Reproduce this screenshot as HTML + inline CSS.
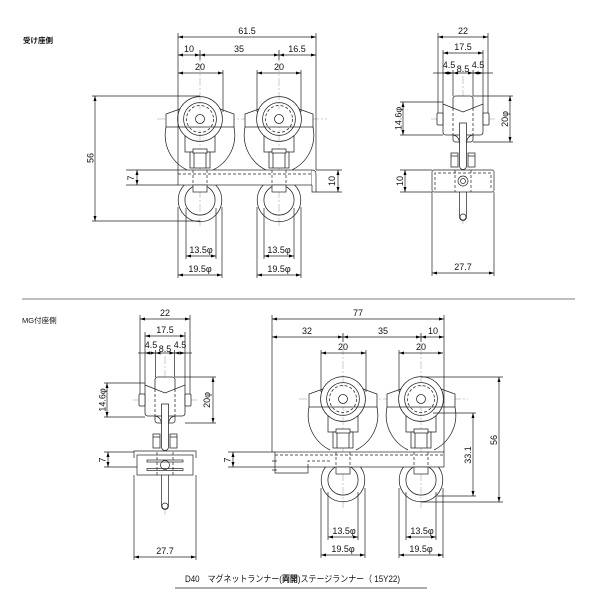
<!DOCTYPE html>
<html><head><meta charset="utf-8"><style>
html,body{margin:0;padding:0;background:#fff;}
svg{display:block}
text{font-family:"Liberation Sans","Noto Sans CJK JP",sans-serif;font-size:9px;fill:#111}
.l{fill:none;stroke:#222;stroke-width:0.7}
.d{fill:none;stroke:#222;stroke-width:0.7;marker-start:url(#ar);marker-end:url(#ar)}
.c{fill:none;stroke:#999;stroke-width:0.5;stroke-dasharray:8,2,2,2}
.h{fill:none;stroke:#222;stroke-width:0.7;stroke-dasharray:3,2}
.m{text-anchor:middle}
</style></head><body>
<svg width="600" height="600" viewBox="0 0 600 600" xmlns="http://www.w3.org/2000/svg">
<defs>
<marker id="ar" viewBox="0 0 10 6" refX="10" refY="3" markerWidth="5" markerHeight="3" markerUnits="userSpaceOnUse" orient="auto-start-reverse"><path d="M0,0L10,3L0,6z" fill="#000"/></marker>
<g id="up" fill="none" stroke="#222" stroke-width="0.75">
 <path d="M-34,8C-38,28 -27,44 -13,51M34,8C38,28 27,44 13,51"/>
 <path d="M-20,-10L-34,-5L-34,8L34,8L34,-5L20,-10" fill="#fff"/>
 <circle r="22.4"/>
 <circle r="16.4"/>
 <circle r="13.5" stroke-dasharray="3,2"/>
 <circle r="4.5"/>
 <path d="M-15,16.6V33H15V16.6"/>
 <rect x="-10" y="33" width="20" height="16" fill="#fff"/>
 <path d="M-6,33V49M6,33V49"/>
 <rect x="-7" y="30" width="14" height="4" fill="#fff"/>
</g>
<g id="rg" fill="none" stroke="#222" stroke-width="0.75">
 <circle cy="81" r="21.8"/>
 <circle cy="81" r="15.1"/>
</g>
<g id="sd" fill="none" stroke="#222" stroke-width="0.75">
 <rect x="-10" y="-23" width="20" height="46" rx="2.5" fill="#fff"/>
 <path d="M-20,-15L0,-7L20,-15V13Q20,16 17,16H-17Q-20,16 -20,13Z" fill="#fff"/>
 <rect x="-26" y="-6" width="6" height="12" rx="1" fill="#fff"/>
 <rect x="20" y="-6" width="6" height="12" rx="1" fill="#fff"/>
 <path d="M-10,-11V16M10,-11V16" stroke-dasharray="3,2"/>
 <path d="M-10,16Q-4,17 -3.5,24M10,16Q4,17 3.5,24"/>
 <path d="M-3.5,4V47A3.5,3.5 0 0 0 3.5,47V4Z" fill="#fff"/>
 <rect x="-12" y="34" width="7" height="14" fill="#fff"/>
 <rect x="5" y="34" width="7" height="14" fill="#fff"/>
 <path d="M-12,37H-5M5,37H12"/>
</g>
</defs>

<!-- labels -->
<text x="23" y="43" style="font-size:7.5px;font-weight:bold">受け座側</text>
<text x="22" y="323" style="font-size:7.5px">MG付座側</text>
<line x1="22" y1="299" x2="575" y2="299" stroke="#aaa" stroke-width="1.6"/>

<!-- ===== TOP LEFT ===== -->
<path class="c" d="M200,50V228M279,50V228M157,119H327"/>
<use href="#rg" x="200" y="119"/>
<use href="#rg" x="279" y="119"/>
<use href="#up" x="200" y="119"/>
<use href="#up" x="279" y="119"/>
<rect class="l" x="178" y="170" width="134" height="15" style="fill:#fff"/>
<path class="h" d="M178,174H312"/>
<path class="l" d="M312,170Q316,170 316,174V192H312V185" style="fill:#fff"/>
<rect class="l" x="193" y="185" width="14" height="7" style="fill:#fff"/>
<rect class="l" x="272" y="185" width="14" height="7" style="fill:#fff"/>
<path class="h" d="M193,170V185M207,170V185M272,170V185M286,170V185"/>
<!-- ext lines -->
<path class="l" d="M178,33V170M316,33V170M223,70V112M257,70V112M301,70V112M200,50V60M279,50V60"/>
<path class="l" d="M92,96H200M92,221H200M126,170H178M126,185H178M316,170H342M316,192H342"/>
<path class="l" d="M178,207V278M222,207V278M186,208V259M216,208V259M257,207V278M301,207V278M264,208V259M294,208V259"/>
<!-- dims -->
<line class="d" x1="178" y1="37" x2="316" y2="37"/>
<text class="m" x="247" y="34">61.5</text>
<line class="d" x1="178" y1="55" x2="200" y2="55"/>
<line class="d" x1="200" y1="55" x2="279" y2="55"/>
<line class="d" x1="279" y1="55" x2="316" y2="55"/>
<text class="m" x="189" y="52">10</text>
<text class="m" x="239" y="52">35</text>
<text class="m" x="297" y="52">16.5</text>
<line class="d" x1="178" y1="73" x2="223" y2="73"/>
<line class="d" x1="257" y1="73" x2="301" y2="73"/>
<text class="m" x="200" y="70">20</text>
<text class="m" x="279" y="70">20</text>
<line class="d" x1="95" y1="96" x2="95" y2="221"/>
<text class="m" transform="translate(93.5,158) rotate(-90)">56</text>
<line class="d" x1="137" y1="170" x2="137" y2="185"/>
<text class="m" transform="translate(134,178) rotate(-90)">7</text>
<line class="d" x1="338" y1="170" x2="338" y2="192"/>
<text class="m" transform="translate(335,181) rotate(-90)">10</text>
<line class="d" x1="186" y1="256" x2="216" y2="256"/>
<line class="d" x1="264" y1="256" x2="294" y2="256"/>
<text class="m" x="201" y="253">13.5φ</text>
<text class="m" x="279" y="253">13.5φ</text>
<line class="d" x1="178" y1="275" x2="222" y2="275"/>
<line class="d" x1="257" y1="275" x2="301" y2="275"/>
<text class="m" x="200" y="272">19.5φ</text>
<text class="m" x="279" y="272">19.5φ</text>

<!-- ===== TOP RIGHT ===== -->
<path class="c" d="M463,76V225M431,119H495"/>
<use href="#sd" x="463" y="119"/>
<g transform="translate(463,119)">
 <path class="l" d="M-3.5,73V98A3.5,3.5 0 0 0 3.5,98V73" style="fill:#fff"/>
 <rect class="l" x="-31" y="51" width="62" height="22" rx="2" style="fill:#fff"/>
 <path class="h" d="M-28,71V54H28V71M-8,51V73M8,51V73"/>
 <circle class="l" cy="62" r="5"/><circle class="l" cy="62" r="2.5"/>
 <circle class="l" cy="98" r="3"/>
</g>
<path class="l" d="M438,33V113M488,33V113M443,50V104M483,50V104M453,70V96M473,70V96"/>
<path class="l" d="M400,102H443M400,135H443M473,96H513M473,142H513M400,170H432M400,192H432M432,192V276M494,192V276M433,73H443M483,73H493"/>
<line class="d" x1="438" y1="37" x2="488" y2="37"/>
<text class="m" x="463" y="34">22</text>
<line class="d" x1="443" y1="53" x2="483" y2="53"/>
<text class="m" x="463" y="50">17.5</text>
<line class="d" x1="443" y1="73" x2="453" y2="73"/>
<line class="d" x1="453" y1="73" x2="473" y2="73"/>
<line class="d" x1="473" y1="73" x2="483" y2="73"/>
<text class="m" x="449" y="68">4.5</text>
<text class="m" x="463" y="72">8.5</text>
<text class="m" x="478" y="68">4.5</text>
<line class="d" x1="403" y1="102" x2="403" y2="135"/>
<text class="m" transform="translate(401.5,118.5) rotate(-90)">14.6φ</text>
<line class="d" x1="510" y1="96" x2="510" y2="142"/>
<text class="m" transform="translate(508,119) rotate(-90)">20φ</text>
<line class="d" x1="405" y1="170" x2="405" y2="192"/>
<text class="m" transform="translate(403,181) rotate(-90)">10</text>
<line class="d" x1="432" y1="273" x2="494" y2="273"/>
<text class="m" x="463" y="270">27.7</text>

<!-- ===== BOTTOM LEFT ===== -->
<path class="c" d="M165,356V515M133,400H197"/>
<use href="#sd" x="165" y="400"/>
<g transform="translate(165,400)">
 <path class="l" d="M-3.5,75V106A3.5,3.5 0 0 0 3.5,106V75" style="fill:#fff"/>
 <path class="l" d="M-31,58V51H31V58" style="fill:#fff"/>
 <rect class="l" x="-28" y="55" width="56" height="20" style="fill:#fff"/>
 <rect class="l" x="-18" y="60" width="36" height="2"/>
 <rect class="l" x="-18" y="68.5" width="36" height="2"/>
 <path class="h" d="M-8,52V75M8,52V75"/>
 <circle class="l" cy="65" r="4.5"/>
 <circle class="l" cy="106" r="3"/>
</g>
<path class="l" d="M140,315V394M190,315V394M145,332V385M185,332V385M155.5,350V377M174.5,350V377"/>
<path class="l" d="M104,383H145M104,417H145M175,377H216M185,423H216M104,452H134M104,467H137M134,475V560M196,475V560M138,353H145M185,353H192"/>
<line class="d" x1="140" y1="319" x2="190" y2="319"/>
<text class="m" x="165" y="316">22</text>
<line class="d" x1="145" y1="336" x2="185" y2="336"/>
<text class="m" x="165" y="333">17.5</text>
<line class="d" x1="145" y1="353" x2="155.5" y2="353"/>
<line class="d" x1="155.5" y1="353" x2="174.5" y2="353"/>
<line class="d" x1="174.5" y1="353" x2="185" y2="353"/>
<text class="m" x="151" y="348">4.5</text>
<text class="m" x="165" y="352">8.5</text>
<text class="m" x="180" y="348">4.5</text>
<line class="d" x1="107" y1="383" x2="107" y2="417"/>
<text class="m" transform="translate(105.5,400) rotate(-90)">14.6φ</text>
<line class="d" x1="213" y1="377" x2="213" y2="423"/>
<text class="m" transform="translate(210,400) rotate(-90)">20φ</text>
<line class="d" x1="108" y1="452" x2="108" y2="467"/>
<text class="m" transform="translate(105.5,460) rotate(-90)">7</text>
<line class="d" x1="134" y1="557" x2="196" y2="557"/>
<text class="m" x="165" y="554">27.7</text>

<!-- ===== BOTTOM RIGHT ===== -->
<path class="c" d="M343,333V508M421,333V508M299,399H468"/>
<use href="#rg" x="343" y="399"/>
<use href="#rg" x="421" y="399"/>
<use href="#up" x="343" y="399"/>
<use href="#up" x="421" y="399"/>
<path class="l" d="M275,467V473H308V467" style="fill:#fff"/>
<rect class="l" x="275" y="452" width="169" height="15" style="fill:#fff"/>
<path class="h" d="M275,455H444M308,467V461H332"/>
<path class="l" d="M272,461H277M272,470H277"/>
<rect class="l" x="336" y="467" width="14" height="7" style="fill:#fff"/>
<rect class="l" x="414" y="467" width="14" height="7" style="fill:#fff"/>
<path class="h" d="M336,452V467M350,452V467M414,452V467M428,452V467"/>
<path class="l" d="M272,315V452M444,315V452M321,350V392M366,350V392M399,350V392M343,333V342M421,333V342"/>
<path class="l" d="M228,452H275M228,467H275M421,377H503M421,502H503M433,413H476M437,496H476"/>
<path class="l" d="M321,488V558M365,488V558M328,492V540M358,492V540M399,488V558M443,488V558M406,492V540M436,492V540"/>
<line class="d" x1="272" y1="319" x2="444" y2="319"/>
<text class="m" x="358" y="316">77</text>
<line class="d" x1="272" y1="337" x2="343" y2="337"/>
<line class="d" x1="343" y1="337" x2="421" y2="337"/>
<line class="d" x1="421" y1="337" x2="444" y2="337"/>
<text class="m" x="307" y="334">32</text>
<text class="m" x="383" y="334">35</text>
<text class="m" x="433" y="334">10</text>
<line class="d" x1="321" y1="353" x2="366" y2="353"/>
<line class="d" x1="399" y1="353" x2="443" y2="353"/>
<text class="m" x="343" y="350">20</text>
<text class="m" x="421" y="350">20</text>
<line class="d" x1="233" y1="452" x2="233" y2="467"/>
<text class="m" transform="translate(230.5,460) rotate(-90)">7</text>
<line class="d" x1="499" y1="377" x2="499" y2="502"/>
<text class="m" transform="translate(497,440) rotate(-90)">56</text>
<line class="d" x1="473" y1="413" x2="473" y2="496"/>
<text class="m" transform="translate(471,455) rotate(-90)">33.1</text>
<line class="d" x1="328" y1="537" x2="358" y2="537"/>
<line class="d" x1="406" y1="537" x2="436" y2="537"/>
<text class="m" x="344" y="534">13.5φ</text>
<text class="m" x="422" y="534">13.5φ</text>
<line class="d" x1="321" y1="555" x2="365" y2="555"/>
<line class="d" x1="399" y1="555" x2="443" y2="555"/>
<text class="m" x="343" y="552">19.5φ</text>
<text class="m" x="421" y="552">19.5φ</text>

<!-- title -->
<text x="185" y="582" textLength="215" lengthAdjust="spacingAndGlyphs" style="font-size:9px">D40　マグネットランナー(<tspan font-weight="bold">両開</tspan>)ステージランナー（ 15Y22)</text>
<line x1="175" y1="588" x2="427" y2="588" stroke="#222" stroke-width="0.8"/>
</svg>
</body></html>
